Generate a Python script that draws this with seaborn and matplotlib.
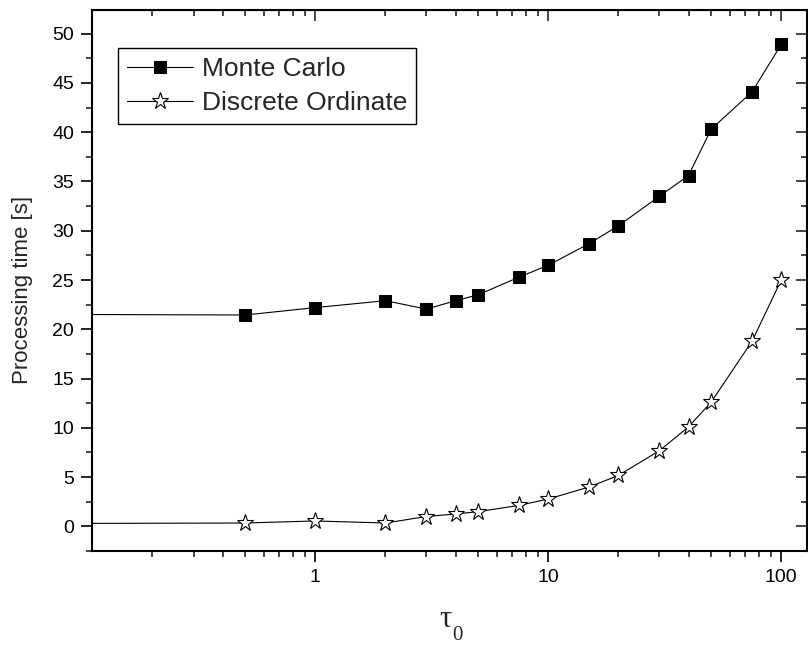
import numpy as np
import pandas as pd
import matplotlib
matplotlib.use("Agg")
import matplotlib.pyplot as plt
import seaborn as sns
from matplotlib.ticker import FixedLocator, NullFormatter, MultipleLocator, LogLocator, FixedFormatter

# ---- data ----
tau = [0.1, 0.5, 1, 2, 3, 4, 5, 7.5, 10, 15, 20, 30, 40, 50, 75, 100]
monte_carlo = [21.5, 21.45, 22.2, 22.9, 22.05, 22.9, 23.5, 25.3, 26.5, 28.7, 30.5,
               33.5, 35.6, 40.3, 44.1, 48.9]
discrete_ordinate = [0.3, 0.34, 0.55, 0.34, 1.0, 1.26, 1.49, 2.13, 2.78, 4.0, 5.17,
                     7.68, 10.1, 12.6, 18.8, 25.0]
x_major = [1, 10, 100]
x_major_labels = ["1", "10", "100"]

df = pd.DataFrame({"tau": tau, "mc": monte_carlo, "do": discrete_ordinate})

sns.set_style("ticks")
plt.rcParams["font.family"] = ["Liberation Sans", "DejaVu Sans"]

fig = plt.figure(figsize=(8.08, 6.53), dpi=100)
ax = fig.add_axes([92 / 808, 1 - 551 / 653, (807 - 92) / 808, (551 - 10) / 653])

sns.lineplot(data=df, x="tau", y="mc", ax=ax, color="black", linewidth=0.8,
             marker="s", markersize=8, markerfacecolor="black",
             markeredgecolor="black", label="Monte Carlo")
sns.lineplot(data=df, x="tau", y="do", ax=ax, color="black", linewidth=0.8,
             marker="*", markersize=12.5, markerfacecolor="white",
             markeredgecolor="black", markeredgewidth=0.8,
             label="Discrete Ordinate")

ax.set_xscale("log")
ax.set_xlim(0.11, 129)
ax.set_ylim(-2.5, 52.4)

ax.xaxis.set_major_locator(FixedLocator(x_major))
ax.xaxis.set_major_formatter(FixedFormatter(x_major_labels))
ax.xaxis.set_minor_locator(LogLocator(base=10, subs=np.arange(2, 10)))
ax.xaxis.set_minor_formatter(NullFormatter())
ax.yaxis.set_major_locator(MultipleLocator(5))
ax.yaxis.set_minor_locator(MultipleLocator(2.5))

for s in ax.spines.values():
    s.set_visible(True)
    s.set_linewidth(1.5)
    s.set_color("black")

ax.tick_params(which="major", direction="out", length=8, width=1.2,
               labelsize=14, colors="black", pad=5)
ax.tick_params(which="minor", direction="out", length=4.5, width=1.2)

secx = ax.secondary_xaxis("top")
secx.xaxis.set_major_locator(FixedLocator(x_major))
secx.xaxis.set_minor_locator(LogLocator(base=10, subs=np.arange(2, 10)))
secx.xaxis.set_minor_formatter(NullFormatter())
secx.tick_params(which="major", direction="in", length=8, width=1.2, labeltop=False)
secx.tick_params(which="minor", direction="in", length=4.5, width=1.2)

secy = ax.secondary_yaxis("right")
secy.yaxis.set_major_locator(MultipleLocator(5))
secy.yaxis.set_minor_locator(MultipleLocator(2.5))
secy.tick_params(which="major", direction="in", length=8, width=1.2, labelright=False)
secy.tick_params(which="minor", direction="in", length=4.5, width=1.2)

# x label: tau with a dropped subscript 0 (serif)
ax.set_xlabel("τ", fontsize=22, family=["Liberation Serif", "DejaVu Serif"])
ax.xaxis.set_label_coords(0.495, -0.0998)
ax.annotate("0", xy=(1, 0), xycoords=ax.xaxis.label, xytext=(0, -4.6),
            textcoords="offset points", ha="left", va="baseline",
            fontsize=15, family=["Liberation Serif", "DejaVu Serif"])

ax.set_ylabel("Processing time [s]", fontsize=16)
ax.yaxis.set_label_coords(-0.083, 0.482)

leg = ax.legend(loc="upper left", bbox_to_anchor=(0.036, 0.930), borderaxespad=0,
                fontsize=19, frameon=True, fancybox=False, framealpha=1,
                edgecolor="black", handlelength=2.5, handletextpad=0.33,
                labelspacing=0.38, borderpad=0.35)
leg.get_frame().set_linewidth(1.0)

fig.savefig("out.png", dpi=100)
